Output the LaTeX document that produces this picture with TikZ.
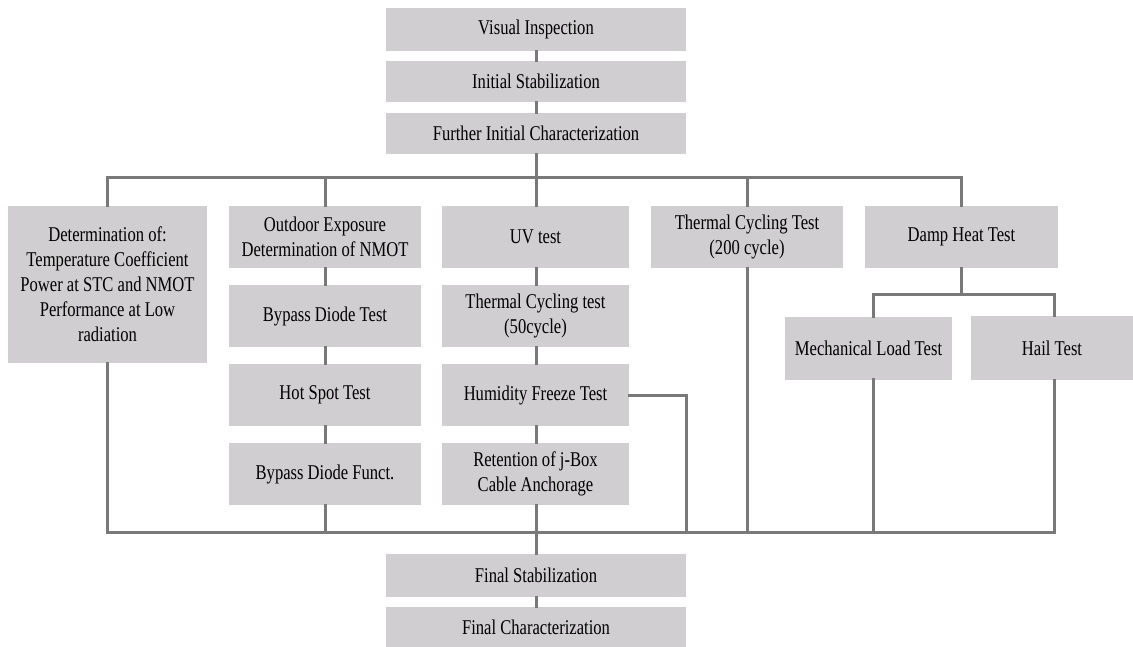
\documentclass[tikz,border=0pt]{standalone}
\usepackage{fontspec}
\setmainfont{Liberation Serif}[FakeStretch=0.79]
\begin{document}
\begin{tikzpicture}[x=1pt,y=-1pt,
  box/.style={fill=boxgray, draw=none, inner sep=0pt, align=center, font=\fontsize{21}{25}\selectfont},
  conn/.style={draw=linegray, line width=3pt, line cap=rect}]
\definecolor{boxgray}{RGB}{208,206,208}
\definecolor{linegray}{RGB}{122,121,122}
\fill[white] (0,0) rectangle (1133,647);
\useasboundingbox (0,0) rectangle (1133,647);
% top chain
\node[box, minimum width=300pt, minimum height=43pt] (vis) at (536,29.5) {Visual Inspection};
\node[box, minimum width=300pt, minimum height=41pt] (ist) at (536,81.5) {Initial Stabilization};
\node[box, minimum width=300pt, minimum height=41pt] (fic) at (536,133.5) {Further Initial Characterization};
% column 1
\node[box, minimum width=199pt, minimum height=157pt] (det) at (107.5,284.5) {Determination of:\\Temperature Coefficient\\Power at STC and NMOT\\Performance at Low\\radiation};
% column 2
\node[box, minimum width=192pt, minimum height=62pt] (out) at (325,237) {Outdoor Exposure\\Determination of NMOT};
\node[box, minimum width=192pt, minimum height=62pt] (byp) at (325,316) {Bypass Diode Test};
\node[box, minimum width=192pt, minimum height=62pt] (hot) at (325,395) {Hot Spot Test};
\node[box, minimum width=192pt, minimum height=62pt] (bdf) at (325,474) {Bypass Diode Funct.};
% column 3
\node[box, minimum width=187pt, minimum height=62pt] (uv) at (535.5,237) {UV test};
\node[box, minimum width=187pt, minimum height=62pt] (tc50) at (535.5,316) {Thermal Cycling test\\(50cycle)};
\node[box, minimum width=187pt, minimum height=62pt] (hf) at (535.5,395) {Humidity Freeze Test};
\node[box, minimum width=187pt, minimum height=62pt] (ret) at (535.5,474) {Retention of j-Box\\Cable Anchorage};
% column 4
\node[box, minimum width=192pt, minimum height=62pt] (tc200) at (747,237) {Thermal Cycling Test\\(200 cycle)};
% column 5
\node[box, minimum width=193pt, minimum height=62pt] (dh) at (961.5,237) {Damp Heat Test};
\node[box, minimum width=167pt, minimum height=63pt] (ml) at (868.5,348) {Mechanical Load Test};
\node[box, minimum width=162pt, minimum height=64pt] (hail) at (1052,348) {Hail Test};
% bottom
\node[box, minimum width=300pt, minimum height=43pt] (fs) at (536,575.5) {Final Stabilization};
\node[box, minimum width=300pt, minimum height=40pt] (fc) at (536,627) {Final Characterization};
% bus coordinates
\coordinate (tb) at (536,178);
\coordinate (bb) at (536,532);
% connectors
\draw[conn] (vis.south) -- (ist.north);
\draw[conn] (ist.south) -- (fic.north);
\draw[conn] (fic.south) -- (uv.north -| fic.south);
\draw[conn] (det.north) -- (det.north |- tb) -- (dh.north |- tb) -- (dh.north);
\draw[conn] (out.north) -- (out.north |- tb);
\draw[conn] (tc200.north) -- (tc200.north |- tb);
\draw[conn] (out.south) -- (byp.north);
\draw[conn] (byp.south) -- (hot.north);
\draw[conn] (hot.south) -- (bdf.north);
\draw[conn] (uv.south -| fic.south) -- (tc50.north -| fic.south);
\draw[conn] (tc50.south -| fic.south) -- (hf.north -| fic.south);
\draw[conn] (hf.south -| fic.south) -- (ret.north -| fic.south);
\draw[conn] (dh.south) -- (dh.south |- 0,294);
\draw[conn] (ml.north -| 873,0) -- (873,294) -- (1054,294) -- (hail.north -| 1054,0);
% bottom bus
\draw[conn] (det.south) -- (det.south |- bb) -- (1054,532) -- (hail.south -| 1054,0);
\draw[conn] (bdf.south) -- (bdf.south |- bb);
\draw[conn] (ret.south -| bb) -- (fs.north -| bb);
\draw[conn] (hf.east) -- (686,395) -- (686,532);
\draw[conn] (tc200.south) -- (tc200.south |- bb);
\draw[conn] (ml.south -| 873,0) -- (873,532);
\draw[conn] (fs.south) -- (fc.north);
\end{tikzpicture}
\end{document}
